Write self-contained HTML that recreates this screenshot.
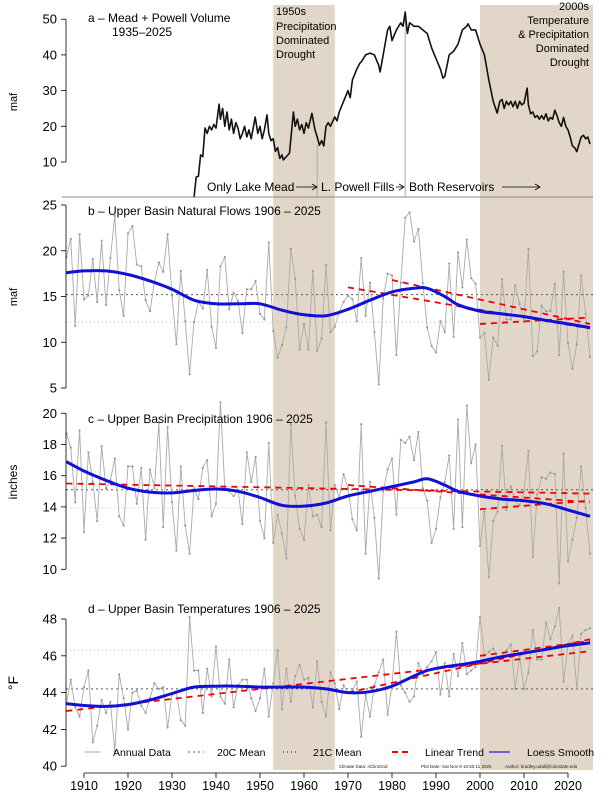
<!DOCTYPE html>
<html><head><meta charset="utf-8"><style>
html,body{margin:0;padding:0;background:#fff;}
svg{display:block;font-family:"Liberation Sans",Arial,sans-serif;}
</style></head><body>
<svg id="chart" width="612" height="792" viewBox="0 0 612 792" xmlns="http://www.w3.org/2000/svg">
<g id="shade"></g>
<g id="marks"></g>
<g id="axes"></g>
<g font-size="12" fill="#000">
<text x="88" y="22">a – Mead + Powell Volume</text>
<text x="112" y="36">1935–2025</text>
<text font-size="11"><tspan x="276" y="15">1950s</tspan><tspan x="276" y="30">Precipitation</tspan><tspan x="276" y="44">Dominated</tspan><tspan x="276" y="58">Drought</tspan></text>
<text font-size="11" text-anchor="end"><tspan x="589" y="10">2000s</tspan><tspan x="589" y="24">Temperature</tspan><tspan x="589" y="38">&amp; Precipitation</tspan><tspan x="589" y="52">Dominated</tspan><tspan x="589" y="66">Drought</tspan></text>
<text x="207" y="191">Only Lake Mead</text>
<text x="321" y="191">L. Powell Fills</text>
<text x="409" y="191">Both Reservoirs</text>
<g stroke="#000" stroke-width="0.8" fill="none">
<path d="M296 187 H317 M312 184 L317 187 L312 190"/>
<path d="M396 187 H404 M399 184 L404 187 L399 190"/>
<path d="M502 187 H540 M535 184 L540 187 L535 190"/>
</g>
<text x="88" y="215">b – Upper Basin Natural Flows 1906 – 2025</text>
<text x="88" y="423">c – Upper Basin Precipitation 1906 – 2025</text>
<text x="88" y="613">d – Upper Basin Temperatures 1906 – 2025</text>
<text transform="translate(17,102) rotate(-90)" text-anchor="middle" font-size="11">maf</text>
<text transform="translate(17,297) rotate(-90)" text-anchor="middle" font-size="11">maf</text>
<text transform="translate(17,482) rotate(-90)" text-anchor="middle" font-size="12">inches</text>
<text transform="translate(18,683) rotate(-90)" text-anchor="middle" font-size="14">°F</text>
</g>
<g font-size="10.5">
<line x1="85" y1="752" x2="100" y2="752" stroke="#aaa" stroke-width="1"/><text x="113" y="756">Annual Data</text>
<line x1="188" y1="752" x2="204" y2="752" stroke="#555" stroke-dasharray="2,3"/><text x="217" y="756">20C Mean</text>
<line x1="283" y1="752" x2="299" y2="752" stroke="#333" stroke-dasharray="1,3" stroke-width="1.2"/><text x="313" y="756">21C Mean</text>
<line x1="392" y1="752" x2="411" y2="752" stroke="#e00" stroke-width="2" stroke-dasharray="6,4"/><text x="425" y="756">Linear Trend</text>
<line x1="489" y1="752" x2="510" y2="752" stroke="#22d" stroke-width="1.2"/><text x="527" y="756">Loess Smooth</text>
<g font-size="4.5" fill="#222"><text x="339" y="768">Climate Data: nClimGrid</text><text x="421" y="768">Plot Date: Sat Nov  8 16:50:11 2025</text><text x="505" y="768">Author: bradley.udall@colostate.edu</text></g>
</g>
</svg>
<script>
const years = [];
for (let y = 1906; y <= 2025; y++) years.push(y);
const flowValues = [19.3,21.3,11.8,21.8,14.7,15.1,19.1,14.4,21.1,14.1,19.2,23.8,15.7,12.9,21.9,22.7,18.5,18.3,14.6,13.4,16.6,18.7,17.7,21.8,15.1,9.8,17.8,12.3,6.5,12.2,14.4,13.7,17.9,11.7,9.4,18.3,19.3,13.6,15.4,14.5,11.0,15.8,15.8,16.7,13.1,12.5,20.9,11.2,8.3,9.7,11.6,20.2,16.9,9.2,12.0,9.2,17.8,9.1,10.4,18.4,11.1,11.7,13.3,14.4,15.1,14.7,12.3,19.2,12.9,16.5,11.1,5.4,14.8,17.5,17.3,8.6,16.5,23.6,24.2,21.0,22.4,16.5,11.6,9.6,8.9,12.3,11.1,18.6,10.6,19.8,16.0,21.2,17.0,16.4,10.5,11.0,5.9,10.5,9.6,16.9,12.5,12.5,16.2,14.2,12.2,20.2,8.5,9.0,14.0,13.4,13.4,16.4,8.6,17.7,9.9,7.1,9.8,17.3,13.1,8.4];
const precipValues = [18.7,17.8,14.3,18.9,12.4,17.5,15.6,13.1,17.9,15.2,15.7,17.1,13.4,12.8,16.6,16.6,14.2,16.5,11.9,16.4,15.2,19.4,12.7,19.1,14.3,11.2,16.6,12.8,11.0,15.2,14.5,16.5,17.0,13.4,14.2,20.7,15.2,15.0,14.7,15.1,12.9,17.5,15.6,17.2,13.1,12.0,18.1,11.7,13.5,12.3,10.7,19.3,14.7,12.6,11.9,15.4,13.4,13.5,12.7,19.4,12.5,15.4,14.6,16.1,15.2,13.2,12.5,19.3,11.0,15.6,13.3,9.4,15.0,16.4,17.1,13.5,18.3,18.1,18.5,17.0,18.8,15.2,14.4,11.7,12.6,14.6,15.6,17.3,12.6,19.6,12.7,20.5,16.8,18.0,11.5,13.7,9.5,13.1,13.7,17.9,13.8,15.3,14.4,14.1,15.0,17.6,10.8,14.8,15.9,15.8,16.2,16.1,9.1,17.4,10.5,11.9,13.3,16.6,13.9,11.0];
const tempValues = [43.4,44.7,43.2,42.7,44.3,45.2,41.3,42.2,43.6,42.9,43.5,40.8,45.0,43.7,42.0,44.0,44.1,43.3,42.9,43.7,44.5,44.2,44.3,42.1,43.9,44.0,42.5,42.2,48.1,45.2,45.2,42.9,45.3,43.8,46.5,43.8,43.4,45.8,43.2,44.4,44.7,44.7,43.7,43.0,43.7,45.3,42.7,44.5,46.3,43.1,45.3,43.5,44.9,45.5,44.7,44.8,43.2,45.7,43.5,42.7,45.1,44.5,43.1,44.4,44.0,44.1,44.6,41.6,43.9,42.7,44.4,45.1,45.8,42.8,44.4,47.3,44.4,44.0,43.5,43.8,45.6,45.0,45.4,45.7,46.2,43.9,45.6,43.8,46.1,44.9,46.7,45.0,45.2,45.4,48.1,46.0,46.2,46.4,45.9,46.0,46.3,46.6,44.2,46.0,44.2,45.1,47.4,45.8,45.8,47.8,46.9,47.6,48.6,44.6,46.6,47.1,44.2,47.2,47.4,47.5];
const volumeYears = [1935,1935.5,1936,1936.5,1937,1937.5,1938,1938.5,1939,1939.5,1940,1940.7,1941,1941.5,1942,1942.5,1943,1943.5,1944,1944.5,1945,1945.5,1946,1946.5,1947,1947.5,1948,1948.9,1949.5,1950,1950.5,1951,1951.6,1952,1952.5,1953,1953.5,1954,1954.5,1955,1955.3,1956,1956.7,1957.6,1958,1958.5,1959,1959.5,1960,1960.5,1961,1961.8,1962.5,1963,1963.5,1964,1964.5,1965,1965.5,1966,1967,1967.5,1968,1969,1970,1970.5,1971,1972,1972.7,1973,1974,1975,1976,1977,1977.3,1978,1979,1979.5,1980,1981,1982,1982.5,1983,1983.5,1984,1985,1986,1987,1988,1989,1990,1991,1991.6,1992,1993,1994,1995,1996,1997,1997.3,1998,1999,2000,2001,2002,2003,2003.9,2004.5,2005,2005.5,2006,2006.5,2007,2007.5,2008,2008.5,2009,2009.5,2010,2010.7,2011,2011.5,2012,2012.5,2013,2013.5,2014,2014.5,2015,2015.5,2016,2016.5,2017,2017.5,2018,2018.5,2019,2019.5,2020,2020.5,2021,2021.5,2022,2022.5,2023,2023.5,2024,2024.5,2025];
const volumeValues = [0,5.8,6,12,11.5,19.5,18,20,19,20.5,19.5,26.2,22,25,20,24,19,22,18,21,19.5,16.5,18,20,17,19,16.5,22.6,18,20,16.5,19,23.2,18,16,16.5,13,14,11,12,10.6,11.5,12.5,24,20,22,19,20.5,18,21,19.5,23.6,19,17,14.7,16,14.5,20,21,20,22.6,21.5,24,27,30,28,33,36,37.7,38,40,40.5,40,37,35.2,40,47,48,44,47,49,48,52,46,49,48,48,47,46,42,39,36,33.5,34,40,41,43,47,48,48.7,47,47,43,40,33,27,23.7,27,27.5,25,27,26,27,25.5,27,25,27,26,26.5,30.7,26,23.5,24,22.5,23,22,23,22,23.5,21.5,22.5,22,24.5,23,21,20,22.5,20,19,17,14.5,14,12.9,15,17,17.5,16.5,17,15];
const loessYears = [1906,1910,1915,1920,1925,1930,1935,1940,1945,1950,1955,1960,1965,1970,1975,1980,1985,1988,1992,1995,2000,2005,2010,2015,2020,2025];
const flowLoess = [17.6,17.8,17.8,17.4,16.7,15.8,14.6,14.2,14.2,14.2,13.5,13.0,12.9,13.6,14.6,15.5,15.9,15.9,15.0,14.1,13.4,13.1,12.8,12.4,12.0,11.6];
const precipLoess = [16.9,16.3,15.7,15.2,14.95,14.9,15.05,15.15,15.0,14.6,14.1,14.05,14.25,14.7,15.0,15.3,15.6,15.8,15.4,15.0,14.7,14.5,14.4,14.2,13.8,13.4];
const tempLoess = [43.4,43.3,43.25,43.35,43.6,43.95,44.3,44.35,44.35,44.3,44.3,44.3,44.2,44.0,44.05,44.35,44.9,45.2,45.4,45.5,45.7,45.95,46.15,46.35,46.55,46.7];
const flowMeans = [15.2,12.2];
const precipMeans = [15.1,13.95];
const tempMeans = [44.2,46.3];
const flowTrends = [[1970,16.0,2025,11.5],[1980,16.8,2025,12.0],[2000,12.0,2025,12.7]];
const precipTrends = [[1906,15.5,2025,14.85],[1970,15.4,2025,14.3],[2000,13.85,2025,14.4]];
const tempTrends = [[1906,43.0,2025,46.25],[1970,44.0,2025,46.9],[2000,46.0,2025,46.8]];
const volTicks = [10,20,30,40,50];
const flowTicks = [5,10,15,20,25];
const precipTicks = [10,12,14,16,18,20];
const tempTicks = [40,42,44,46,48];
const xTicks = [1910,1920,1930,1940,1950,1960,1970,1980,1990,2000,2010,2020];
const droughts = [[1953,1967],[2000,2026]];

const NS = 'http://www.w3.org/2000/svg';
const X = yr => 84 + (yr - 1910) * 4.4;
const Ya = v => 197.7 - v * 3.57;
const Yb = v => 205 + (25 - v) * 9.15;
const Yc = v => 413.3 + (20 - v) * 15.6;
const Yd = v => 619 + (48 - v) * 18.4;
function mk(tag, attrs, parent) {
  const e = document.createElementNS(NS, tag);
  for (const k in attrs) e.setAttribute(k, attrs[k]);
  parent.appendChild(e);
  return e;
}
const shadeG = document.getElementById('shade');
const marks = document.getElementById('marks');
const axes = document.getElementById('axes');
droughts.forEach(d => {
  const x1 = X(d[0]), x2 = Math.min(X(d[1]), 593);
  const r = mk('rect', {x: x1, y: 5, width: x2 - x1, height: 765, fill: '#e2d6c8'}, shadeG);
  
  
});
[197].forEach(y => {
  const l = mk('line', {x1: 62, x2: 593, y1: y, y2: y, stroke: '#888', 'stroke-width': 1}, axes);
  
  
});
{
  const l1 = mk('line', {x1: X(1963), x2: X(1963), y1: 145, y2: 197, stroke: '#aaa'}, marks);
  
  
  const l2 = mk('line', {x1: X(1983), x2: X(1983), y1: 12, y2: 197, stroke: '#aaa'}, marks);
  
  
  const pts = volumeYears.map((y, i) => X(y).toFixed(1) + ',' + Ya(volumeValues[i]).toFixed(1)).join(' ');
  const p = mk('polyline', {points: pts, fill: 'none', stroke: '#111', 'stroke-width': 1.6, 'stroke-linejoin': 'round'}, marks);
  
  
}
function smoothPath(xs, ys) {
  let d = 'M' + xs[0] + ',' + ys[0];
  for (let i = 0; i < xs.length - 1; i++) {
    const x0 = xs[Math.max(i - 1, 0)], y0 = ys[Math.max(i - 1, 0)];
    const x1 = xs[i], y1 = ys[i], x2 = xs[i + 1], y2 = ys[i + 1];
    const x3 = xs[Math.min(i + 2, xs.length - 1)], y3 = ys[Math.min(i + 2, xs.length - 1)];
    d += ' C' + (x1 + (x2 - x0) / 6).toFixed(1) + ',' + (y1 + (y2 - y0) / 6).toFixed(1) + ' ' +
      (x2 - (x3 - x1) / 6).toFixed(1) + ',' + (y2 - (y3 - y1) / 6).toFixed(1) + ' ' + x2.toFixed(1) + ',' + y2.toFixed(1);
  }
  return d;
}
function panel(key, vals, loess, means, trends, Y) {
  const g = mk('g', {}, marks);
  
  
  const m1 = mk('line', {x1: 66, x2: 593, y1: Y(means[0]), y2: Y(means[0]), stroke: '#555', 'stroke-dasharray': '2,3', 'stroke-width': 1}, g);
  
  
  const m2 = mk('line', {x1: 66, x2: 593, y1: Y(means[1]), y2: Y(means[1]), stroke: '#c8c8c8', 'stroke-dasharray': '1,3', 'stroke-width': 1.2}, g);
  
  
  const pts = years.map((y, i) => X(y).toFixed(1) + ',' + Y(vals[i]).toFixed(1)).join(' ');
  const pl = mk('polyline', {points: pts, fill: 'none', stroke: '#aaa', 'stroke-width': 0.9}, g);
  
  
  years.forEach((y, i) => {
    const c = mk('circle', {cx: X(y), cy: Y(vals[i]), r: 1.1, fill: '#999'}, g);
    
    
  });
  trends.forEach(t => {
    const l = mk('line', {x1: X(t[0]), y1: Y(t[1]), x2: X(t[2]), y2: Y(t[3]), stroke: '#e00', 'stroke-width': 1.8, 'stroke-dasharray': '6,5'}, g);
    
    
  });
  const lp = mk('path', {d: smoothPath(loessYears.map(X), loess.map(Y)), fill: 'none', stroke: '#1010d8', 'stroke-width': 3}, g);
  
  
}
panel('flow', flowValues, flowLoess, flowMeans, flowTrends, Yb);
panel('precip', precipValues, precipLoess, precipMeans, precipTrends, Yc);
panel('temp', tempValues, tempLoess, tempMeans, tempTrends, Yd);
function yAxis(key, ticks, Y) {
  const g = mk('g', {}, axes);
  
  
  mk('line', {x1: 66, x2: 66, y1: Y(ticks[0]), y2: Y(ticks[ticks.length - 1]), stroke: '#000', 'stroke-width': 0.8}, g);
  ticks.forEach(t => {
    mk('line', {x1: 61, x2: 66, y1: Y(t), y2: Y(t), stroke: '#000', 'stroke-width': 0.8}, g);
    const tx = mk('text', {x: 57, y: Y(t) + 4.5, 'text-anchor': 'end', 'font-size': 13}, g);
    
    
    tx.textContent = t;
  });
}
yAxis('volume', volTicks, Ya);
yAxis('flow', flowTicks, Yb);
yAxis('precip', precipTicks, Yc);
yAxis('temp', tempTicks, Yd);
{
  const g = mk('g', {}, axes);
  
  
  mk('line', {x1: X(1910), x2: X(2020), y1: 773, y2: 773, stroke: '#000', 'stroke-width': 0.8}, g);
  xTicks.forEach(t => {
    mk('line', {x1: X(t), x2: X(t), y1: 773, y2: 778, stroke: '#000', 'stroke-width': 0.8}, g);
    const tx = mk('text', {x: X(t), y: 790, 'text-anchor': 'middle', 'font-size': 12.5}, g);
    
    
    tx.textContent = t;
  });
}
</script>
</body></html>
